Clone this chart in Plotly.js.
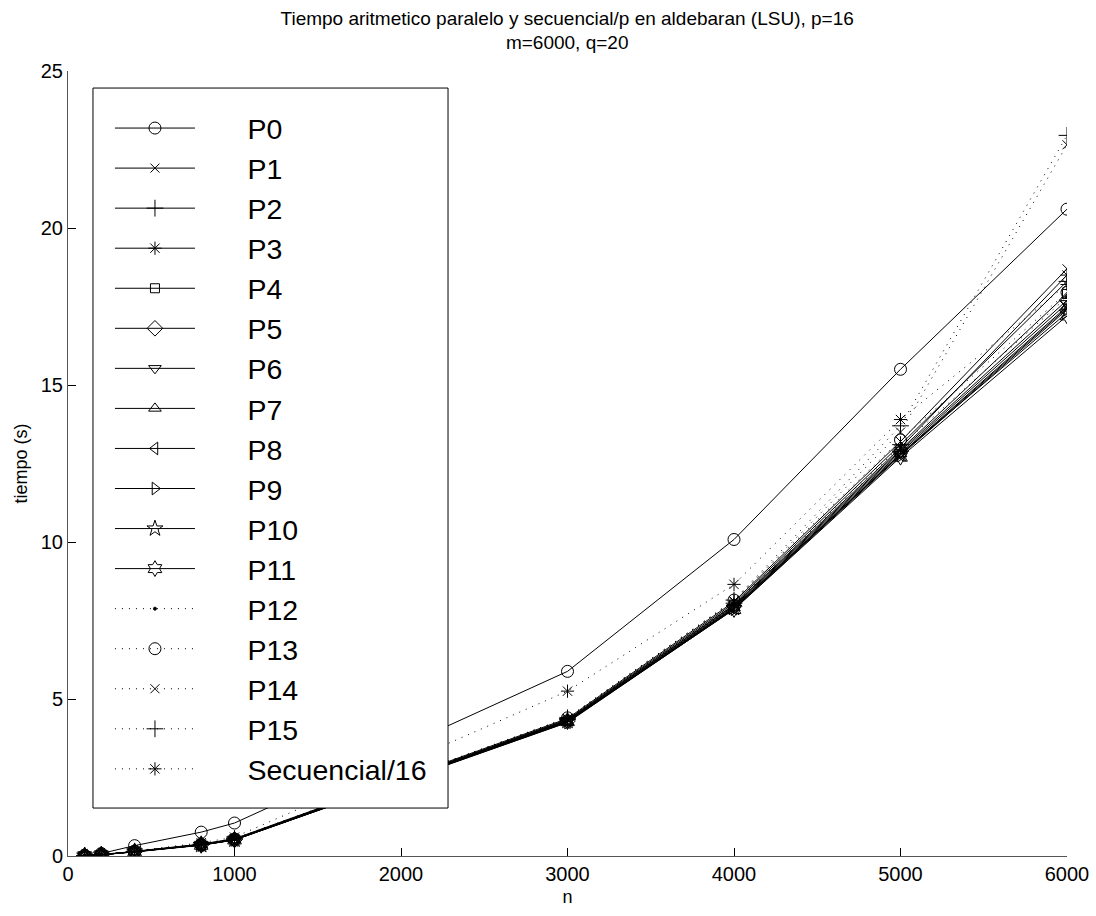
<!DOCTYPE html>
<html>
<head>
<meta charset="utf-8">
<script src="https://cdn.plot.ly/plotly-3.0.1.min.js"></script>
<style>html,body{margin:0;padding:0;background:#fff;}#chart{width:1096px;height:916px;}</style>
</head>
<body>
<div id="chart"></div>
<script>
const n = [100, 200, 400, 800, 1000, 3000, 4000, 5000, 6000];
const seriesNames = ["P0","P1","P2","P3","P4","P5","P6","P7","P8","P9","P10","P11","P12","P13","P14","P15","Secuencial/16"];
const P0  = [0.02, 0.08, 0.33, 0.76, 1.05, 5.88, 10.08, 15.50, 20.60];
const P1  = [0.01, 0.04, 0.15, 0.38, 0.55, 4.38, 8.10, 13.20, 18.70];
const P2  = [0.01, 0.04, 0.14, 0.37, 0.54, 4.35, 8.05, 13.10, 18.30];
const P3  = [0.01, 0.04, 0.14, 0.36, 0.53, 4.33, 8.00, 13.00, 18.50];
const P4  = [0.01, 0.04, 0.14, 0.36, 0.53, 4.32, 7.98, 12.95, 17.90];
const P5  = [0.01, 0.04, 0.14, 0.36, 0.52, 4.30, 7.95, 12.90, 17.70];
const P6  = [0.01, 0.04, 0.14, 0.35, 0.52, 4.28, 7.92, 12.85, 17.60];
const P7  = [0.01, 0.04, 0.14, 0.35, 0.52, 4.27, 7.90, 12.80, 17.50];
const P8  = [0.01, 0.04, 0.14, 0.35, 0.51, 4.26, 7.88, 12.78, 17.45];
const P9  = [0.01, 0.04, 0.13, 0.35, 0.51, 4.25, 7.86, 12.75, 17.40];
const P10 = [0.01, 0.04, 0.14, 0.35, 0.52, 4.30, 7.90, 12.80, 17.30];
const P11 = [0.01, 0.04, 0.13, 0.34, 0.51, 4.28, 7.85, 12.70, 17.20];
const P12 = [0.01, 0.04, 0.14, 0.36, 0.53, 4.35, 8.02, 13.05, 17.80];
const P13 = [0.01, 0.04, 0.15, 0.37, 0.54, 4.40, 8.15, 13.25, 17.95];
const P14 = [0.01, 0.04, 0.15, 0.37, 0.54, 4.38, 8.12, 13.50, 22.65];
const P15 = [0.01, 0.04, 0.15, 0.38, 0.55, 4.40, 8.15, 13.70, 22.95];
const Sec = [0.01, 0.05, 0.16, 0.42, 0.60, 5.25, 8.65, 13.90, 18.20];
const seriesValues = [P0,P1,P2,P3,P4,P5,P6,P7,P8,P9,P10,P11,P12,P13,P14,P15,Sec];
const xTicks = [0, 1000, 2000, 3000, 4000, 5000, 6000];
const yTicks = [0, 5, 10, 15, 20, 25];

const symbols = ["circle-open","x-thin-open","cross-thin-open","asterisk-open","square-open","diamond-open",
  "triangle-down-open","triangle-up-open","triangle-left-open","triangle-right-open","star-open","hexagram-open",
  "circle","circle-open","x-thin-open","cross-thin-open","asterisk-open"];
const sizes = [12,9,12,11,9,12,11,11,11,11,12,12,3,12,9,12,11];
const dotted = "1px,6px";
const dashes = ["solid","solid","solid","solid","solid","solid","solid","solid","solid","solid","solid","solid",dotted,dotted,dotted,dotted,dotted];
const pad = "\u00a0\u00a0\u00a0\u00a0\u00a0\u00a0";

const traces = seriesNames.map((name, i) => ({
  x: n, y: seriesValues[i], name: pad + name, type: "scatter", mode: "lines+markers",
  line: {color: "#000", width: 1, dash: dashes[i]},
  marker: {symbol: symbols[i], size: sizes[i], color: "#000", line: {color: "#000", width: 1}}
}));

const layout = {
  width: 1096, height: 916,
  paper_bgcolor: "#fff", plot_bgcolor: "#fff",
  margin: {l: 68, r: 29, t: 71, b: 60},
  font: {family: "Liberation Sans, Arial, sans-serif", color: "#000"},
  title: {text: "Tiempo aritmetico paralelo y secuencial/p en aldebaran (LSU), p=16<br>m=6000, q=20",
    font: {size: 19, color: "#000"}, x: 0.5175, xanchor: "center", y: 0.973, yanchor: "middle"},
  xaxis: {range: [0, 6000], tickvals: xTicks, ticktext: xTicks.map(String), ticks: "inside", ticklen: 8,
    tickcolor: "#000", showline: true, linecolor: "#555", linewidth: 1, showgrid: false, zeroline: false,
    tickfont: {size: 20}, title: {text: "n", font: {size: 18}, standoff: 6}},
  yaxis: {range: [0, 25], tickvals: yTicks, ticktext: yTicks.map(String), ticks: "inside", ticklen: 8,
    tickcolor: "#000", showline: true, linecolor: "#555", linewidth: 1, showgrid: false, zeroline: false,
    tickfont: {size: 20}, title: {text: "tiempo (s)", font: {size: 18}, standoff: 8}},
  shapes: [{type: "rect", xref: "paper", yref: "paper", x0: 0.025, x1: 0.3804, y0: 0.0611, y1: 0.9783,
    fillcolor: "#fff", line: {color: "#000", width: 1}, layer: "above"}],
  showlegend: true,
  legend: {x: 0.042, y: 0.9592, xanchor: "left", yanchor: "top", bgcolor: "rgba(0,0,0,0)",
    borderwidth: 0, font: {size: 28.5, color: "#000"}, itemwidth: 80, tracegroupgap: 0}
};

Plotly.newPlot("chart", traces, layout, {displayModeBar: false, staticPlot: true});
</script>
</body>
</html>
